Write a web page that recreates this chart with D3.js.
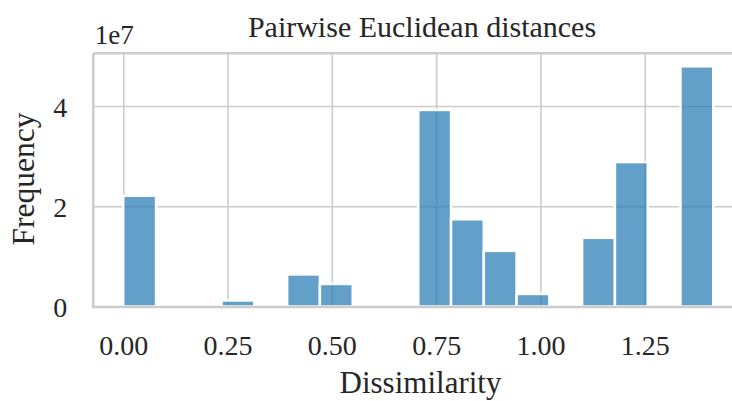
<!DOCTYPE html>
<html>
<head>
<meta charset="utf-8">
<script src="https://cdn.jsdelivr.net/npm/d3@7"></script>
<style>
  body { margin: 0; background: #fff; }
  svg text { font-family: "Liberation Serif", "Times New Roman", serif; fill: #262626; }
</style>
</head>
<body>
<div id="chart"></div>
<script>
/* Data: histogram of pairwise distances (18 bins over 0..sqrt(2)) */
const BIN_EDGES = [0, 0.0786, 0.1571, 0.2357, 0.3143, 0.3928, 0.4714, 0.5500, 0.6285,
    0.7071, 0.7857, 0.8642, 0.9428, 1.0214, 1.0999, 1.1785, 1.2571, 1.3356, 1.4142];
const COUNTS = [22.1e6, 0, 0, 1.2e6, 0, 6.4e6, 4.5e6, 0, 0.5e6,
    39.2e6, 17.4e6, 11.1e6, 2.5e6, 0, 13.7e6, 28.8e6, 0, 47.9e6];
const X_TICKS = [0, 0.25, 0.5, 0.75, 1.0, 1.25];
const Y_TICKS = [0, 2e7, 4e7];

/* Dimensions */
const WIDTH = 732;
const HEIGHT = 401;
const LEFT = 93.3;
const TOP = 53.3;
const BOTTOM = 306.5;
const RIGHT = 743;

const x = d3.scaleLinear().domain([-0.0718, 1.4855]).range([LEFT, RIGHT]);
const y = d3.scaleLinear().domain([0, 5.05e7]).range([BOTTOM, TOP]);

const svg = d3.select('#chart').append('svg')
    .attr('width', WIDTH)
    .attr('height', HEIGHT);

/* Grid + tick labels */
const xAxis = svg.append('g')
    .attr('transform', `translate(0,${BOTTOM})`)
    .call(d3.axisBottom(x).tickValues(X_TICKS).tickFormat(d3.format('.2f'))
        .tickSize(-(BOTTOM - TOP)).tickSizeOuter(0).tickPadding(29));
xAxis.select('.domain').remove();
xAxis.selectAll('line').attr('stroke', '#cccccc').attr('stroke-width', 1.6);
xAxis.selectAll('text').attr('font-size', 28).attr('dy', '0.71em');

const yAxis = svg.append('g')
    .attr('transform', `translate(${LEFT},0)`)
    .call(d3.axisLeft(y).tickValues(Y_TICKS).tickFormat(d => d / 1e7)
        .tickSize(-(RIGHT - LEFT)).tickSizeOuter(0).tickPadding(26));
yAxis.select('.domain').remove();
yAxis.selectAll('line').attr('stroke', '#cccccc').attr('stroke-width', 1.6);
yAxis.selectAll('text').attr('font-size', 28).attr('dy', '0.36em');

svg.selectAll('g.tick text').attr('fill', '#262626').style('fill', '#262626');

/* Bars */
const bins = COUNTS.map((c, i) => ({ x0: BIN_EDGES[i], x1: BIN_EDGES[i + 1], count: c }))
    .filter(d => d.count > 0);

svg.append('g').selectAll('rect').data(bins).enter().append('rect')
    .attr('x', d => x(d.x0))
    .attr('width', d => x(d.x1) - x(d.x0))
    .attr('y', d => y(d.count))
    .attr('height', d => y(0) - y(d.count))
    .attr('fill', '#1f77b4')
    .attr('fill-opacity', 0.7)
    .attr('stroke', '#ffffff')
    .attr('stroke-width', 2.5);

/* Spines */
const spine = svg.append('g').attr('fill', 'none').attr('stroke', '#cccccc').attr('stroke-width', 2.5);
spine.append('line').attr('x1', LEFT).attr('x2', LEFT).attr('y1', TOP).attr('y2', BOTTOM + 1.25);
spine.append('line').attr('x1', LEFT).attr('x2', RIGHT).attr('y1', TOP).attr('y2', TOP);
spine.append('line').attr('x1', LEFT - 1.25).attr('x2', RIGHT).attr('y1', BOTTOM + 0.5).attr('y2', BOTTOM + 0.5);

/* Texts */
svg.append('text')
    .attr('x', LEFT + 1.5)
    .attr('y', 43.5)
    .attr('font-size', 27)
    .text('1e7');

svg.append('text')
    .attr('x', 422)
    .attr('y', 36.5)
    .attr('text-anchor', 'middle')
    .attr('font-size', 30)
    .text('Pairwise Euclidean distances');

svg.append('text')
    .attr('x', 420.5)
    .attr('y', 393)
    .attr('text-anchor', 'middle')
    .attr('font-size', 31)
    .text('Dissimilarity');

svg.append('text')
    .attr('transform', 'translate(34,179) rotate(-90)')
    .attr('text-anchor', 'middle')
    .attr('font-size', 31.5)
    .text('Frequency');
</script>
</body>
</html>
